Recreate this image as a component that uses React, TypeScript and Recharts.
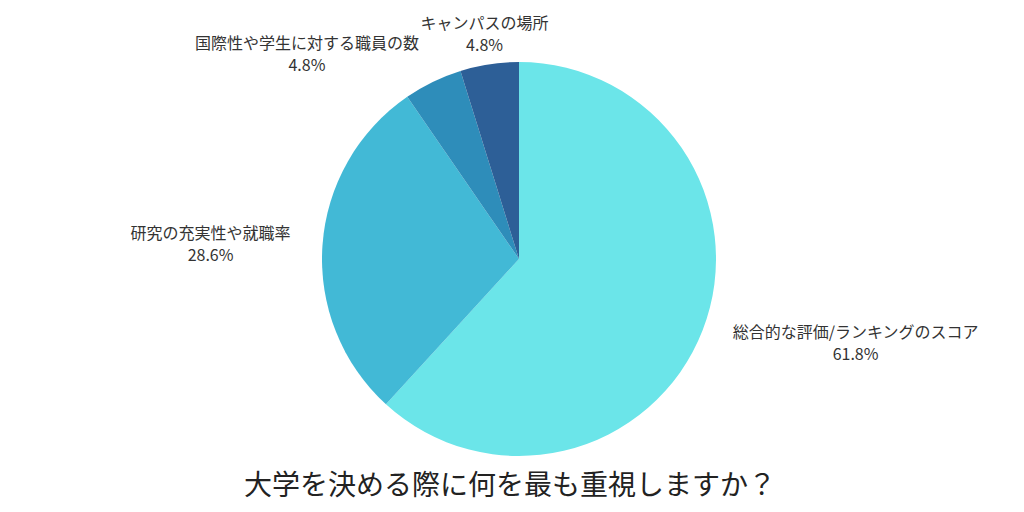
import React from 'react';
import { PieChart, Pie, Cell } from 'recharts';

const categories = [
  '総合的な評価/ランキングのスコア',
  '研究の充実性や就職率',
  '国際性や学生に対する職員の数',
  'キャンパスの場所',
];
const shares = [61.8, 28.6, 4.8, 4.8];
const COLORS = ['#6BE5E9', '#42B9D6', '#2E8DBA', '#2D5F97'];
const TITLE = '大学を決める際に何を最も重視しますか？';

const FONT = "'Noto Sans CJK JP', 'Noto Sans', sans-serif";
const RADIAN = Math.PI / 180;

let ctx: CanvasRenderingContext2D | null = null;
const measure = (text: string, size: number) => {
  if (!ctx) ctx = document.createElement('canvas').getContext('2d');
  if (!ctx) return text.length * size;
  ctx.font = `${size}px ${FONT}`;
  return ctx.measureText(text).width;
};

const data = categories.map((name, i) => ({ name, value: shares[i] }));

const renderLabel = (props: any) => {
  const { cx, cy, midAngle, outerRadius, name, value } = props;
  const r = outerRadius + 32;
  const cos = Math.cos(-midAngle * RADIAN);
  const sin = Math.sin(-midAngle * RADIAN);
  const x = cx + r * cos;
  const y = cy + r * sin;
  const pct = `${Number(value).toFixed(1)}%`;
  const w = Math.max(measure(name, 16), measure(pct, 16));
  let bx = x;
  if (cos > 0.3) bx = x + w / 2;
  else if (cos < -0.3) bx = x - w / 2;
  return (
    <g>
      <text x={bx} y={y - 11} textAnchor="middle" dominantBaseline="central" fill="#333" fontSize={16} fontFamily={FONT}>
        {name}
      </text>
      <text x={bx} y={y + 11} textAnchor="middle" dominantBaseline="central" fill="#333" fontSize={16} fontFamily={FONT}>
        {pct}
      </text>
    </g>
  );
};

export default function App() {
  return (
    <div style={{ position: 'absolute', left: 0, top: 0, width: 1024, height: 512, background: '#fff' }}>
      <PieChart width={1024} height={512} margin={{ top: 0, right: 0, bottom: 0, left: 0 }}>
        <Pie
          data={data}
          dataKey="value"
          nameKey="name"
          cx={519}
          cy={259}
          outerRadius={197}
          startAngle={90}
          endAngle={-270}
          stroke="none"
          label={renderLabel}
          labelLine={false}
          isAnimationActive={false}
        >
          {data.map((entry, index) => (
            <Cell key={`cell-${index}`} fill={COLORS[index % COLORS.length]} />
          ))}
        </Pie>
      </PieChart>
      <div
        style={{
          position: 'absolute',
          left: 0,
          width: 1020,
          top: 464,
          textAlign: 'center',
          fontFamily: FONT,
          fontSize: 28,
          lineHeight: '38px',
          color: '#222',
        }}
      >
        {TITLE}
      </div>
    </div>
  );
}
